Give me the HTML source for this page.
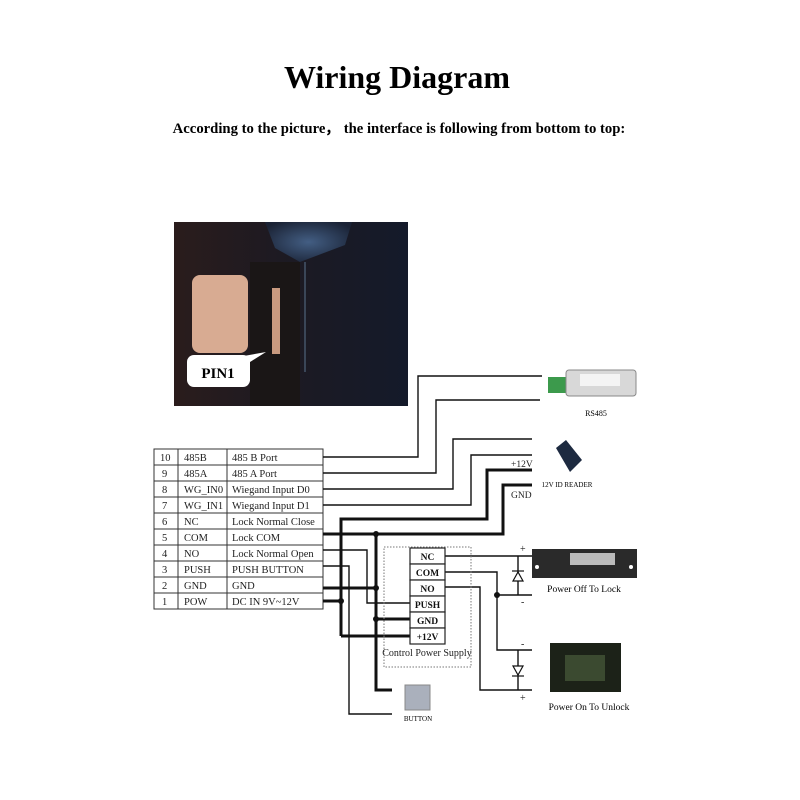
<!DOCTYPE html>
<html><head><style>
body{margin:0;background:#fff;}
svg{display:block;font-family:"Liberation Serif",serif;}
</style></head><body>
<svg width="800" height="800" viewBox="0 0 800 800" xmlns="http://www.w3.org/2000/svg">
<rect width="800" height="800" fill="#fff"/>
<text x="397" y="88" font-size="32" font-weight="bold" text-anchor="middle">Wiring Diagram</text>
<text x="399" y="133" font-size="14.7" font-weight="bold" text-anchor="middle">According to the picture， the interface is following from bottom to top:</text>

<defs>
<linearGradient id="pg" x1="0" y1="0" x2="1" y2="0">
<stop offset="0" stop-color="#2a1c1c"/><stop offset="0.45" stop-color="#1d1a22"/><stop offset="1" stop-color="#141a2a"/>
</linearGradient>
<radialGradient id="bl" cx="0.5" cy="0.5" r="0.6"><stop offset="0" stop-color="#4a6a94"/><stop offset="1" stop-color="#1a2438"/></radialGradient>
</defs>
<rect x="174" y="222" width="234" height="184" fill="url(#pg)"/>
<rect x="250" y="262" width="50" height="144" fill="#1a1616"/>
<path d="M265,222 L352,222 L345,245 L300,262 L275,248 Z" fill="url(#bl)" opacity="0.85"/>
<rect x="192" y="275" width="56" height="78" rx="8" fill="#d8ab92"/>
<rect x="272" y="288" width="8" height="66" fill="#c99a80"/>
<rect x="304" y="262" width="2" height="110" fill="#3a4658"/>
<rect x="187" y="355" width="63" height="32" rx="7" fill="#fff"/>
<polygon points="238,357 266,352 250,362" fill="#fff"/>
<text x="218" y="378" font-size="15" font-weight="bold" text-anchor="middle">PIN1</text>

<g stroke="#333" stroke-width="1" fill="none">
<rect x="154" y="449" width="169" height="160"/>
<line x1="178" y1="449" x2="178" y2="609"/>
<line x1="227" y1="449" x2="227" y2="609"/>
<line x1="154" y1="465" x2="323" y2="465"/><line x1="154" y1="481" x2="323" y2="481"/>
<line x1="154" y1="497" x2="323" y2="497"/><line x1="154" y1="513" x2="323" y2="513"/>
<line x1="154" y1="529" x2="323" y2="529"/><line x1="154" y1="545" x2="323" y2="545"/>
<line x1="154" y1="561" x2="323" y2="561"/><line x1="154" y1="577" x2="323" y2="577"/>
<line x1="154" y1="593" x2="323" y2="593"/>
</g>
<g font-size="10.5" fill="#222">
<text x="160" y="461">10</text><text x="184" y="461">485B</text><text x="232" y="461">485 B Port</text>
<text x="162" y="477">9</text><text x="184" y="477">485A</text><text x="232" y="477">485 A Port</text>
<text x="162" y="493">8</text><text x="184" y="493">WG_IN0</text><text x="232" y="493">Wiegand Input D0</text>
<text x="162" y="509">7</text><text x="184" y="509">WG_IN1</text><text x="232" y="509">Wiegand Input D1</text>
<text x="162" y="525">6</text><text x="184" y="525">NC</text><text x="232" y="525">Lock Normal Close</text>
<text x="162" y="541">5</text><text x="184" y="541">COM</text><text x="232" y="541">Lock COM</text>
<text x="162" y="557">4</text><text x="184" y="557">NO</text><text x="232" y="557">Lock Normal Open</text>
<text x="162" y="573">3</text><text x="184" y="573">PUSH</text><text x="232" y="573">PUSH BUTTON</text>
<text x="162" y="589">2</text><text x="184" y="589">GND</text><text x="232" y="589">GND</text>
<text x="162" y="605">1</text><text x="184" y="605">POW</text><text x="232" y="605">DC IN 9V~12V</text>
</g>

<g stroke="#111" stroke-width="1.4" fill="none">
<polyline points="323,457 418,457 418,376 542,376"/>
<polyline points="323,473 436,473 436,400 540,400"/>
<polyline points="323,489 453,489 453,439 532,439"/>
<polyline points="323,505 471,505 471,455 532,455"/>
<polyline points="323,550 367,550 367,603 410,603"/>
<polyline points="323,566 349,566 349,714 392,714"/>
<polyline points="445,556 532,556"/>
<polyline points="445,572 497,572 497,650 532,650"/>
<polyline points="497,595 532,595"/>
<polyline points="445,587 480,587 480,690 532,690"/>
<line x1="518" y1="556" x2="518" y2="595"/>
<line x1="518" y1="650" x2="518" y2="690"/>
</g>
<g stroke="#111" stroke-width="3" fill="none">
<polyline points="341,636 341,519 487,519 487,470 532,470"/>
<polyline points="341,636 410,636"/>
<polyline points="323,601 341,601"/>
<polyline points="323,534 503,534 503,485 532,485"/>
<polyline points="376,534 376,690 392,690"/>
<polyline points="323,588 376,588"/>
<polyline points="376,619 410,619"/>
</g>
<g fill="#111">
<circle cx="341" cy="601" r="3"/><circle cx="376" cy="534" r="3"/><circle cx="376" cy="588" r="3"/><circle cx="376" cy="619" r="3"/><circle cx="497" cy="595" r="3"/>
</g>
<g stroke="#111" stroke-width="1.2" fill="#fff">
<polygon points="513,581 523,581 518,572"/><line x1="512" y1="571" x2="524" y2="571"/>
<polygon points="513,666 523,666 518,675"/><line x1="512" y1="676" x2="524" y2="676"/>
</g>
<g font-size="10" fill="#222">
<text x="520" y="552">+</text><text x="521" y="605">-</text>
<text x="521" y="647">-</text><text x="520" y="701">+</text>
<text x="511" y="467" font-size="9.5">+12V</text><text x="511" y="498" font-size="9.5">GND</text>
</g>

<rect x="384" y="547" width="87" height="120" fill="none" stroke="#777" stroke-dasharray="1.5,1.5"/>
<g stroke="#222" stroke-width="1.2" fill="#fff">
<rect x="410" y="548" width="35" height="16"/><rect x="410" y="564" width="35" height="16"/>
<rect x="410" y="580" width="35" height="16"/><rect x="410" y="596" width="35" height="16"/>
<rect x="410" y="612" width="35" height="16"/><rect x="410" y="628" width="35" height="16"/>
</g>
<g font-size="9.5" font-weight="bold" text-anchor="middle" fill="#111">
<text x="427.5" y="560">NC</text><text x="427.5" y="576">COM</text><text x="427.5" y="592">NO</text>
<text x="427.5" y="608">PUSH</text><text x="427.5" y="624">GND</text><text x="427.5" y="640">+12V</text>
</g>
<text x="427" y="656" font-size="10" text-anchor="middle" fill="#222">Control Power Supply</text>

<rect x="548" y="377" width="18" height="16" fill="#3c9a4c"/>
<rect x="566" y="370" width="70" height="26" rx="3" fill="#d8d8d8" stroke="#888"/>
<rect x="580" y="374" width="40" height="12" fill="#f4f4f4"/>
<text x="596" y="416" font-size="8" text-anchor="middle">RS485</text>
<polygon points="556,448 566,440 582,460 570,472" fill="#1d2a40"/>
<text x="567" y="487" font-size="7" text-anchor="middle">12V ID READER</text>
<rect x="532" y="549" width="105" height="29" fill="#2a2a2a"/>
<rect x="570" y="553" width="45" height="12" fill="#bbb"/>
<circle cx="537" cy="567" r="2" fill="#fff"/><circle cx="631" cy="567" r="2" fill="#fff"/>
<text x="584" y="592" font-size="9.5" text-anchor="middle">Power Off To Lock</text>
<rect x="550" y="643" width="71" height="49" fill="#1c2218"/>
<rect x="565" y="655" width="40" height="26" fill="#3b4a30"/>
<text x="589" y="710" font-size="9.5" text-anchor="middle">Power On To Unlock</text>
<rect x="405" y="685" width="25" height="25" fill="#aab0bc" stroke="#888"/>
<text x="418" y="721" font-size="7" text-anchor="middle">BUTTON</text>
</svg>
</body></html>
